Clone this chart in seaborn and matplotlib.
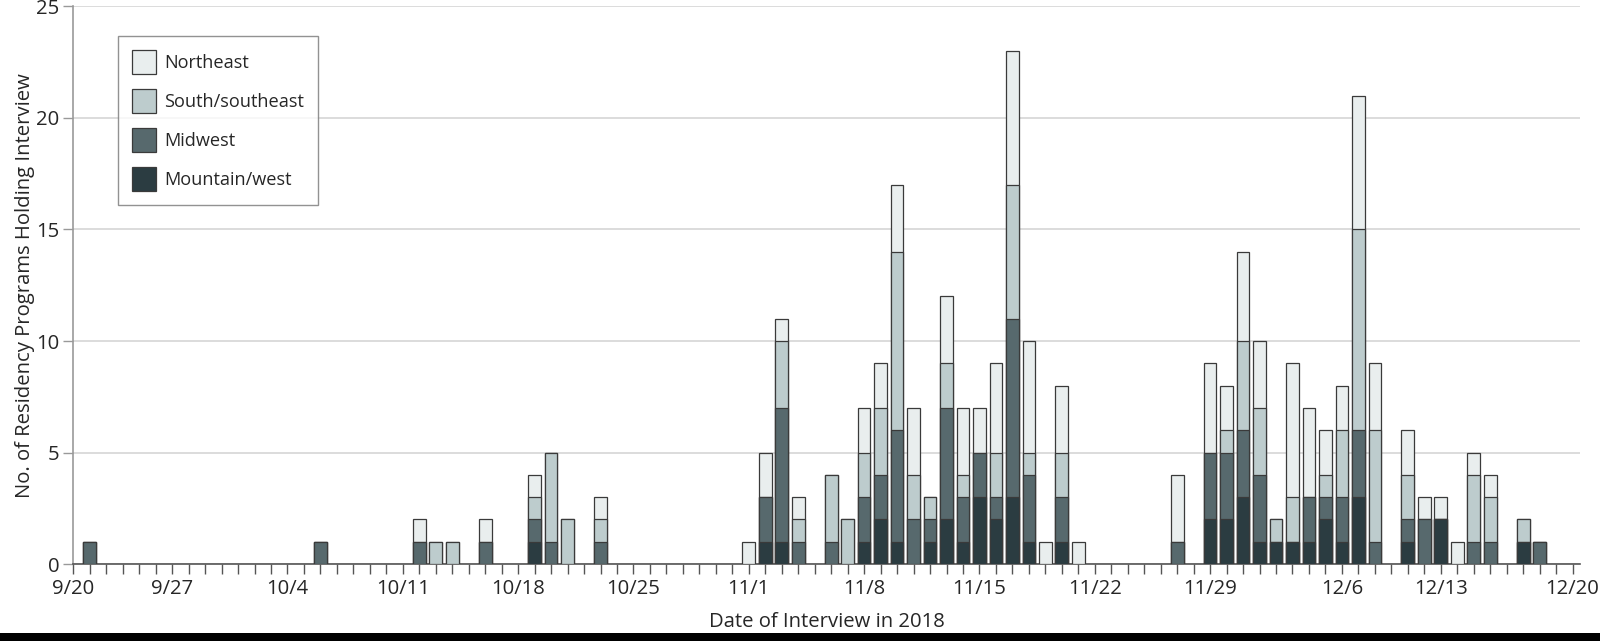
import numpy as np
import pandas as pd
import matplotlib
matplotlib.use("Agg")
import matplotlib.pyplot as plt
import seaborn as sns
from matplotlib.patches import Patch, Rectangle

# ---- data (days since 9/20/2018) ----
day = [1, 15, 21, 22, 23, 25, 28, 29, 30, 32,
       41, 42, 43, 44, 46, 47, 48, 49, 50, 51, 52, 53, 54, 55, 56, 57, 58, 59, 60, 61,
       67, 69, 70, 71, 72, 73, 74, 75, 76, 77, 78, 79,
       81, 82, 83, 84, 85, 86, 88, 89]
mountain_west = [0, 0, 0, 0, 0, 0, 1, 0, 0, 0,
                 0, 1, 1, 0, 0, 0, 1, 2, 1, 0, 1, 2, 1, 3, 2, 3, 1, 0, 1, 0,
                 0, 2, 2, 3, 1, 1, 1, 1, 2, 1, 3, 0,
                 1, 0, 2, 0, 0, 0, 1, 0]
midwest = [1, 1, 1, 0, 0, 1, 1, 1, 0, 1,
           0, 2, 6, 1, 1, 0, 2, 2, 5, 2, 1, 5, 2, 2, 1, 8, 3, 0, 2, 0,
           1, 3, 3, 3, 3, 0, 0, 2, 1, 2, 3, 1,
           1, 2, 0, 0, 1, 1, 0, 1]
south_southeast = [0, 0, 0, 1, 1, 0, 1, 4, 2, 1,
                   0, 0, 3, 1, 3, 2, 2, 3, 8, 2, 1, 2, 1, 0, 2, 6, 1, 0, 2, 0,
                   0, 0, 1, 4, 3, 1, 2, 0, 1, 3, 9, 5,
                   2, 0, 0, 0, 3, 2, 1, 0]
northeast = [0, 0, 1, 0, 0, 1, 1, 0, 0, 1,
             1, 2, 1, 1, 0, 0, 2, 2, 3, 3, 0, 3, 3, 2, 4, 6, 5, 1, 3, 1,
             3, 4, 2, 4, 3, 0, 6, 4, 2, 2, 6, 3,
             2, 1, 1, 1, 1, 1, 0, 0]
regions = ["Northeast", "South/southeast", "Midwest", "Mountain/west"]
tick_labels = ["9/20", "9/27", "10/4", "10/11", "10/18", "10/25", "11/1",
               "11/8", "11/15", "11/22", "11/29", "12/6", "12/13", "12/20"]
tick_days = [0, 6, 13, 20, 27, 34, 41, 48, 55, 62, 69, 77, 83, 91]

colors = {"Northeast": "#e9eeee", "South/southeast": "#bdcccd",
          "Midwest": "#57696d", "Mountain/west": "#2b3c41"}
edge = "#3a3a3a"

df = pd.DataFrame({"day": day, "Mountain/west": mountain_west, "Midwest": midwest,
                   "South/southeast": south_southeast, "Northeast": northeast})
stack_order = ["Mountain/west", "Midwest", "South/southeast", "Northeast"]
cum = df[stack_order].cumsum(axis=1)

sns.set_style("white")
plt.rcParams["font.family"] = ["Open Sans", "DejaVu Sans"]
FS = 14.6
LFS = 13.1

fig = plt.figure(figsize=(16, 6.41), dpi=100)
ax = fig.add_axes([0.0458, 0.12, 0.9417, 0.870])

# draw from tallest layer down so each lower segment overlays
for reg in reversed(stack_order):
    layer = pd.DataFrame({"day": df["day"], "top": cum[reg]})
    layer = layer[layer["top"] > 0]
    sns.barplot(data=layer, x="day", y="top", native_scale=True, width=0.77,
                color=colors[reg], saturation=1, edgecolor=edge, linewidth=0.9,
                ax=ax, errorbar=None, zorder=3)

ax.set_xlim(0, 91.45)
ax.set_ylim(0, 25)
ax.set_yticks([0, 5, 10, 15, 20, 25])
ax.yaxis.grid(True, color="#d6d6d6", linewidth=1.2, zorder=0)
ax.set_axisbelow(True)
ax.set_xticks(tick_days)
ax.set_xticklabels(tick_labels)
ax.set_xticks(np.arange(0, 92), minor=True)
ax.tick_params(axis="x", which="both", direction="out", length=7, width=1,
               color="#555555", bottom=True, labelsize=FS, pad=4)
ax.tick_params(axis="y", direction="out", length=7, width=1, color="#999999",
               left=True, labelsize=FS, pad=3)
for s in ["top", "right"]:
    ax.spines[s].set_visible(False)
ax.spines["left"].set_color("#9a9a9a")
ax.spines["bottom"].set_color("#555555")
ax.spines["left"].set_linewidth(1.2)
ax.spines["bottom"].set_linewidth(1.2)

ax.set_xlabel("Date of Interview in 2018", fontsize=FS, labelpad=9)
ax.set_ylabel("No. of Residency Programs Holding Interview", fontsize=FS, labelpad=1)

handles = [Patch(facecolor=colors[r], edgecolor=edge, linewidth=0.9) for r in regions]
leg = ax.legend(handles, regions, loc="upper left", bbox_to_anchor=(0.0295, 0.947),
                frameon=True, fancybox=False, edgecolor="#777777", fontsize=LFS,
                handlelength=1.32, handleheight=1.65, labelspacing=0.82,
                borderpad=0.78, handletextpad=0.45, borderaxespad=0)
leg.get_frame().set_linewidth(1.0)

fig.patches.append(Rectangle((0, 0), 1, 0.012, transform=fig.transFigure,
                             facecolor="black", edgecolor="none"))
fig.savefig("out.png", dpi=100)
